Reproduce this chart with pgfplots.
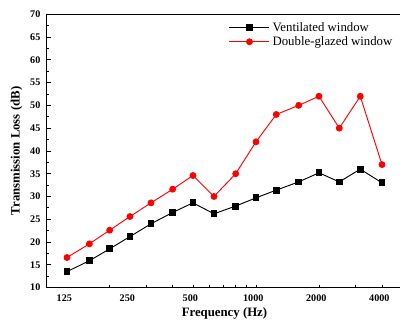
\documentclass[border=0pt]{standalone}
\usepackage{fontspec}
\setmainfont{Liberation Serif}[BoldFont={Liberation Serif Bold}]
\usepackage{pgfplots}
\pgfplotsset{compat=1.18}
\begin{document}
\begin{tikzpicture}
\begin{axis}[name=ax, scale only axis, width=266.7pt, height=205pt,
  xmode=log, xmin=100, xmax=5000, ymin=10, ymax=70,
  xtick={125,250,500,1000,2000,4000},
  xticklabels={125,250,500,1000,2000,4000},
  minor xtick={200,300,400,500,600,700,800,900,1000,2000,3000,4000},
  major x tick style={draw=none},
  ytick={10,15,...,70}, minor y tick num=1,
  tick align=inside, xtick pos=bottom, ytick pos=left,
  major tick length=3pt, minor tick length=2pt,
  axis line style={line width=0.75pt}, tick style={line width=0.6pt, black},
  /pgf/number format/assume math mode=true,
  ticklabel style={font=\fontsize{7.6}{9}\selectfont\bfseries},
  xticklabel style={yshift=-1.7pt, xshift=-2pt},
  yticklabel style={xshift=-1.2pt},
  xlabel={Frequency (Hz)}, ylabel={Transmission Loss (dB)},
  every axis x label/.style={at={(axis description cs:0.5,0)}, anchor=base, yshift=-22pt, font=\fontsize{9.6}{11}\selectfont\bfseries},
  every axis y label/.style={at={(axis description cs:0,0.5)}, rotate=90, anchor=center, yshift=22.5pt, font=\fontsize{9.6}{11}\selectfont\bfseries},
  legend style={draw=none, fill=none, at={(axis description cs:0.512,0.982)}, anchor=north west,
    inner sep=0pt, row sep=-1.5pt, font=\fontsize{9.6}{11.5}\selectfont},
  legend cell align=left,
  legend image code/.code={\draw[mark repeat=2,mark phase=2] plot coordinates {(0pt,0pt) (15pt,0pt) (30pt,0pt)};},
]
\addplot[black, line width=0.7pt, mark=square*, mark size=2.2pt] coordinates {
(125,13.5) (160,15.9) (200,18.5) (250,21.2) (315,24.0) (400,26.5) (500,28.6) (630,26.2)
(800,27.9) (1000,29.7) (1250,31.4) (1600,33.2) (2000,35.2) (2500,33.2) (3150,36.0) (4000,33.0)};
\addlegendentry{Ventilated window}
\addplot[red, line width=0.7pt, mark=*, mark size=2.2pt] coordinates {
(125,16.6) (160,19.6) (200,22.6) (250,25.6) (315,28.6) (400,31.6) (500,34.6) (630,30.0)
(800,35.0) (1000,42.0) (1250,48.0) (1600,50.0) (2000,52.0) (2500,45.0) (3150,52.0) (4000,37.0)};
\addlegendentry{Double-glazed window}
\end{axis}
\pgfresetboundingbox
\useasboundingbox ([xshift=-35pt,yshift=-24.2pt]ax.south west) rectangle ([xshift=-1.7pt,yshift=10.7pt]ax.north east);
\end{tikzpicture}
\end{document}
